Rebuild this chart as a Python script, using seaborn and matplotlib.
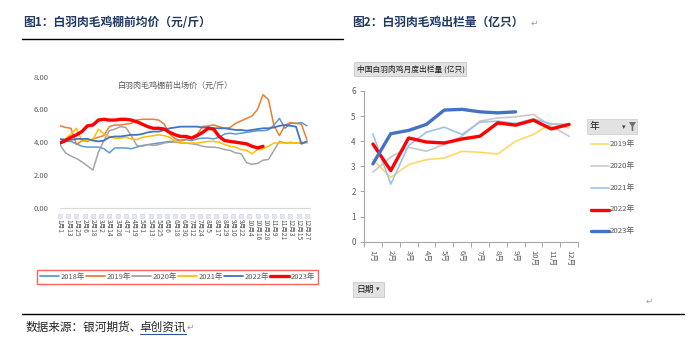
import matplotlib
matplotlib.use("Agg")
import matplotlib.pyplot as plt
from matplotlib.lines import Line2D
from matplotlib.patches import Rectangle, Polygon
import seaborn as sns

sns.set_theme(style="white")
plt.rcParams['font.family'] = ['Noto Sans CJK SC', 'DejaVu Sans']
plt.rcParams['axes.unicode_minus'] = False

# ---------------- 图1：棚前出场价（元/斤），按年份 ----------------
price_days = list(range(0, 361, 8))
price_2018 = [3.95, 4.05, 4.05, 3.9, 3.75, 3.7, 3.7, 3.7, 3.6, 3.35,
              3.65, 3.65, 3.65, 3.6, 3.7, 3.8, 3.85, 3.9, 3.95, 4.0,
              4.05, 4.05, 4.1, 4.15, 4.1, 4.2, 4.25, 4.25, 4.2, 4.3,
              4.5, 4.55, 4.5, 4.55, 4.6, 4.65, 4.7, 4.7, 4.75, 5.05,
              5.45, 4.85, 5.15, 5.15, 5.2, 5.0]
price_2019 = [5.0, 4.9, 4.85, 3.85, 4.1, 4.05, 4.2, 4.3, 4.4, 4.95,
              5.05, 5.05, 5.1, 5.15, 5.35, 5.4, 5.4, 5.4, 5.35, 5.1,
              4.5, 4.2, 4.1, 4.2, 4.3, 4.5, 4.95, 5.0, 5.05, 4.95,
              4.85, 4.9, 5.15, 5.3, 5.45, 5.6, 6.0, 6.9, 6.6, 5.0,
              4.4, 5.05, 5.2, 5.15, 5.1, 4.15]
price_2020 = [3.85, 3.35, 3.15, 3.0, 2.8, 2.55, 2.3, 3.4, 4.1, 4.7,
              4.8, 4.95, 4.9, 4.4, 3.8, 3.75, 3.85, 3.8, 3.85, 3.95,
              4.0, 4.0, 3.95, 3.95, 3.9, 3.85, 3.75, 3.7, 3.7, 3.65,
              3.55, 3.5, 3.35, 3.3, 2.75, 2.65, 2.7, 2.9, 2.95, 3.5,
              4.05, 3.95, 3.95, 3.95, 3.95, 4.0]
price_2021 = [4.0, 4.2, 4.5, 4.85, 4.05, 4.1, 4.15, 4.8, 4.5, 4.35,
              4.25, 4.25, 4.3, 4.2, 4.15, 4.3, 4.35, 4.4, 4.45, 4.4,
              4.3, 4.05, 4.0, 3.95, 3.95, 3.95, 4.0, 4.05, 4.05, 4.0,
              3.85, 3.75, 3.7, 3.55, 3.5, 3.3, 3.55, 3.6, 3.75, 3.95,
              3.95, 3.95, 4.0, 3.95, 4.0, 3.95]
price_2022 = [4.2, 4.15, 4.15, 4.2, 4.2, 4.2, 4.1, 4.05, 4.1, 4.3,
              4.35, 4.35, 4.4, 4.45, 4.45, 4.5, 4.6, 4.65, 4.65, 4.75,
              4.85, 4.9, 4.95, 4.95, 4.95, 4.95, 4.9, 4.9, 4.85, 4.85,
              4.85, 4.8, 4.75, 4.75, 4.7, 4.75, 4.8, 4.85, 4.85, 4.9,
              5.0, 5.05, 5.0, 4.95, 3.9, 4.05]
price_2023 = [3.95, 4.1, 4.3, 4.45, 4.65, 5.0, 5.05, 5.35, 5.4, 5.35,
              5.35, 5.4, 5.4, 5.35, 5.25, 5.1, 4.95, 4.85, 4.85, 4.8,
              4.6, 4.45, 4.35, 4.35, 4.25, 4.4, 4.6, 4.85, 4.8, 4.35,
              4.1, 4.05, 4.0, 3.95, 3.9, 3.75, 3.65, 3.75]
price_years = ['2018年', '2019年', '2020年', '2021年', '2022年', '2023年']
price_ticks = ['1月1', '1月13', '1月25', '2月6', '2月18', '3月2', '3月14', '3月26',
               '4月7', '4月19', '5月1', '5月13', '5月25', '6月6', '6月18', '6月30',
               '7月12', '7月24', '8月5', '8月17', '8月29', '9月10', '9月22', '10月4',
               '10月16', '10月28', '11月9', '11月21', '12月3', '12月15', '12月27']
price_yticks = [0, 2, 4, 6, 8]

# ---------------- 图2：月度出栏量（亿只） ----------------
months = ['1月', '2月', '3月', '4月', '5月', '6月',
          '7月', '8月', '9月', '10月', '11月', '12月']
out_2019 = [3.27, 2.56, 3.07, 3.27, 3.33, 3.60, 3.56, 3.49, 4.00, 4.27, 4.71, 4.53]
out_2020 = [2.77, 3.37, 3.76, 3.60, 3.87, 4.20, 4.80, 4.93, 4.97, 5.07, 4.60, 4.20]
out_2021 = [4.29, 2.29, 3.83, 4.36, 4.56, 4.27, 4.76, 4.80, 4.71, 4.89, 4.69, 4.67]
out_2022 = [3.89, 2.83, 4.13, 3.97, 3.93, 4.09, 4.20, 4.73, 4.64, 4.84, 4.49, 4.67]
out_2023 = [3.10, 4.30, 4.43, 4.67, 5.24, 5.27, 5.17, 5.13, 5.17]
out_years = ['2019年', '2020年', '2021年', '2022年', '2023年']
out_yticks = [0, 1, 2, 3, 4, 5, 6]

W, H = 688, 340
fig = plt.figure(figsize=(W / 100, H / 100), dpi=100)
fig.patch.set_facecolor('white')


def fx(px):
    return px / W


def fy(py):
    return 1 - py / H


NAVY = '#1F3864'
GREY_TXT = '#595959'

# headings and rules
fig.text(fx(23), fy(22), '图1：白羽肉毛鸡棚前均价（元/斤）', fontsize=8.5,
         fontweight='bold', color=NAVY, ha='left', va='center')
fig.text(fx(352), fy(22), '图2：白羽肉毛鸡出栏量（亿只）', fontsize=8.5,
         fontweight='bold', color=NAVY, ha='left', va='center')
fig.text(fx(531), fy(23), '↵', fontsize=6.5, color='#A0A0A0', ha='left',
         va='center', family='DejaVu Sans')
fig.add_artist(Line2D([fx(22), fx(343)], [fy(38.5), fy(38.5)], color='black', lw=1.0))
fig.add_artist(Line2D([fx(22), fx(684)], [fy(314), fy(314)], color='black', lw=1.0))

# source line, with the linked part underlined
renderer = fig.canvas.get_renderer()
src1 = fig.text(fx(25), fy(327), '数据来源：银河期货、', fontsize=8.4, color='#222222',
                ha='left', va='center')
bb1 = src1.get_window_extent(renderer)
x_link = bb1.x1 / W - 0.002
src2 = fig.text(x_link, fy(327), '卓创资讯', fontsize=8.4, color='#222222',
                ha='left', va='center')
bb2 = src2.get_window_extent(renderer)
fig.add_artist(Line2D([x_link, bb2.x1 / W], [fy(334), fy(334)], color='#2F5597', lw=0.8))
fig.text(bb2.x1 / W + 0.001, fy(327), '↵', fontsize=6.5, color='#A0A0A0', ha='left',
         va='center', family='DejaVu Sans')
fig.text(fx(646), fy(301), '↵', fontsize=6.5, color='#A0A0A0', ha='left',
         va='center', family='DejaVu Sans')

# ---------------- left panel ----------------
ax1 = fig.add_axes([fx(60), fy(207.7), fx(310) - fx(60), (207.7 - 76.7) / H])
price_series = [price_2018, price_2019, price_2020, price_2021, price_2022, price_2023]
price_colors = ['#5B9BD5', '#ED7D31', '#A5A5A5', '#FFC000', '#4472C4', '#FF0000']
price_widths = [1.1, 1.1, 1.1, 1.1, 1.3, 2.4]
for vals, col, lw in zip(price_series, price_colors, price_widths):
    sns.lineplot(x=price_days[:len(vals)], y=vals, ax=ax1, color=col,
                 linewidth=lw, legend=False)
ax1.set_xlim(0, 364.5)
ax1.set_ylim(0, 8)
tick_pos = [12 * i for i in range(len(price_ticks))]
ax1.set_xticks(tick_pos)
ax1.set_xticklabels(price_ticks, rotation=-90, fontsize=4.8, color=GREY_TXT)
ax1.set_yticks(price_yticks)
ax1.set_yticklabels([f'{v:.2f}' for v in price_yticks], fontsize=5.5, color=GREY_TXT)
ax1.tick_params(axis='x', length=0, pad=8)
ax1.tick_params(axis='y', length=0, pad=8)
ax1.set_xlabel('')
ax1.set_ylabel('')
for s in ['top', 'right', 'left']:
    ax1.spines[s].set_visible(False)
ax1.spines['bottom'].set_color('#D9D9D9')
ax1.spines['bottom'].set_linewidth(0.8)
ax1.set_facecolor('none')
# small pale boxes above every date label
ax1.scatter(tick_pos, [-0.062] * len(tick_pos), transform=ax1.get_xaxis_transform(),
            marker='s', s=9, facecolor='#E3E8F3', edgecolor='#C9CFE0',
            linewidths=0.4, clip_on=False, zorder=3)
fig.text(fx(175), fy(85), '白羽肉毛鸡棚前出场价（元/斤）', fontsize=5.8,
         color=GREY_TXT, ha='center', va='center')

handles1 = [Line2D([], [], color=c, lw=(2.4 if y == '2023年' else 1.3))
            for c, y in zip(price_colors, price_years)]
leg1 = fig.legend(handles1, price_years, loc='center',
                  bbox_to_anchor=(fx(37), fy(286), fx(318) - fx(37), (286 - 268) / H),
                  mode='expand', ncol=6, fontsize=5.4, frameon=True, fancybox=False,
                  handlelength=2.6, handletextpad=0.25, columnspacing=0.6,
                  borderpad=0.35, borderaxespad=0)
leg1.get_frame().set_edgecolor('#FF3B3B')
leg1.get_frame().set_linewidth(1.0)
for t in leg1.get_texts():
    t.set_color(GREY_TXT)

# ---------------- right panel ----------------
ax2 = fig.add_axes([fx(364), fy(241.7), fx(578) - fx(364), (241.7 - 91) / H])
out_series = [out_2019, out_2020, out_2021, out_2022, out_2023]
out_colors = ['#FFD966', '#C9C9C9', '#9DC3E6', '#FF0000', '#4472C4']
out_widths = [1.2, 1.2, 1.2, 2.4, 2.4]
for vals, col, lw in zip(out_series, out_colors, out_widths):
    sns.lineplot(x=list(range(len(vals))), y=vals, ax=ax2, color=col,
                 linewidth=lw, legend=False)
ax2.set_xlim(-0.5, 11.5)
ax2.set_ylim(0, 6)
ax2.set_xticks(range(len(months)))
ax2.set_xticklabels(months, rotation=-90, fontsize=5.5, color=GREY_TXT)
ax2.set_xticks([i - 0.5 for i in range(len(months) + 1)], minor=True)
ax2.set_yticks(out_yticks)
ax2.set_yticklabels([str(v) for v in out_yticks], fontsize=5.8, color=GREY_TXT)
ax2.tick_params(axis='x', which='major', length=0, pad=6)
ax2.tick_params(axis='x', which='minor', length=3.5, width=0.7, color='#A6A6A6',
                direction='out', bottom=True)
ax2.tick_params(axis='y', length=3, width=0.7, color='#A6A6A6', direction='out',
                left=True, pad=3)
ax2.set_xlabel('')
ax2.set_ylabel('')
for s in ['top', 'right']:
    ax2.spines[s].set_visible(False)
for s in ['left', 'bottom']:
    ax2.spines[s].set_color('#A6A6A6')
    ax2.spines[s].set_linewidth(0.8)
ax2.set_facecolor('none')

# pivot field buttons
fig.add_artist(Rectangle((fx(354), fy(76)), fx(466) - fx(354), (76 - 62) / H,
                         transform=fig.transFigure, facecolor='#E2E2E2',
                         edgecolor='#C8C8C8', lw=0.6))
fig.text(fx(357), fy(69), '中国白羽肉鸡月度出栏量 (亿只)', fontsize=5.6,
         color='#1A1A1A', ha='left', va='center')
fig.add_artist(Rectangle((fx(353), fy(297)), fx(384) - fx(353), (297 - 282) / H,
                         transform=fig.transFigure, facecolor='#E2E2E2',
                         edgecolor='#C8C8C8', lw=0.6))
fig.text(fx(356), fy(289.5), '日期', fontsize=6.3, color='#1A1A1A',
         ha='left', va='center')
fig.text(fx(376), fy(289.5), '▾', fontsize=5, color='#404040',
         ha='left', va='center', family='DejaVu Sans')

# legend of the right panel
fig.add_artist(Rectangle((fx(587), fy(134)), fx(637) - fx(587), (134 - 119) / H,
                         transform=fig.transFigure, facecolor='#E2E2E2',
                         edgecolor='#D0D0D0', lw=0.6))
fig.text(fx(590), fy(126.5), '年', fontsize=7, color='#1A1A1A',
         ha='left', va='center')
fig.text(fx(622), fy(127.5), '▾', fontsize=5, color='#404040',
         ha='left', va='center', family='DejaVu Sans')
fig.add_artist(Polygon([(fx(629), fy(122)), (fx(636), fy(122)), (fx(633.3), fy(126.5)),
                        (fx(633.3), fy(131)), (fx(631.7), fy(131)), (fx(631.7), fy(126.5))],
                       closed=True, transform=fig.transFigure,
                       facecolor='#707070', edgecolor='none'))
legend_rows = [144, 166, 188, 209.5, 231]
for yr, col, lw, row in zip(out_years, out_colors, out_widths, legend_rows):
    fig.add_artist(Line2D([fx(591), fx(609)], [fy(row), fy(row)], color=col, lw=lw))
    fig.text(fx(610), fy(row), yr, fontsize=5.6, color=GREY_TXT,
             ha='left', va='center')

fig.savefig('out.png', dpi=100, facecolor='white')
